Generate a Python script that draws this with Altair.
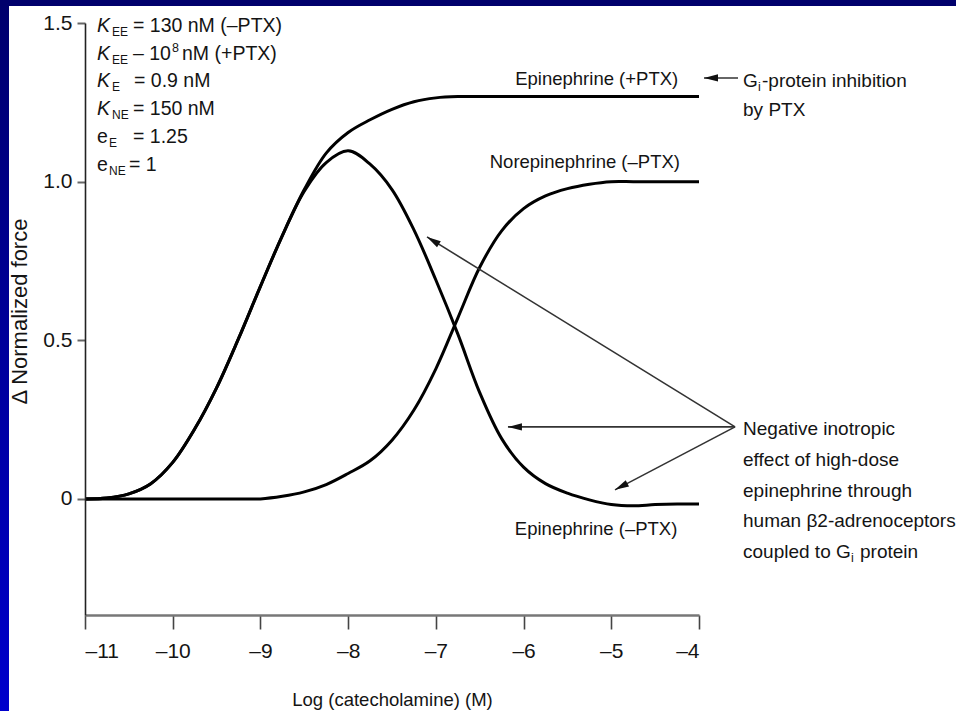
import math
import altair as alt
import pandas as pd

# ---------------- data ----------------
log_conc = [-11, -10.75, -10.5, -10.25, -10, -9.75, -9.5, -9.25, -9, -8.75,
            -8.5, -8.25, -8, -7.75, -7.5, -7.25, -7, -6.75, -6.5, -6.25,
            -6, -5.75, -5.5, -5.25, -5, -4.75, -4.5, -4.25, -4]
epi_plus_ptx = [0, 0.003, 0.016, 0.048, 0.115, 0.22, 0.35, 0.505, 0.67, 0.83,
                0.975, 1.09, 1.155, 1.195, 1.228, 1.252, 1.264, 1.268, 1.268, 1.268,
                1.268, 1.268, 1.268, 1.268, 1.268, 1.268, 1.268, 1.268, 1.268]
epi_minus_ptx = [0, 0.003, 0.016, 0.048, 0.115, 0.22, 0.35, 0.505, 0.67, 0.83,
                 0.97, 1.06, 1.097, 1.055, 0.975, 0.848, 0.69, 0.52, 0.335, 0.19,
                 0.10, 0.048, 0.018, -0.003, -0.018, -0.022, -0.018, -0.016, -0.016]
norepi_minus_ptx = [0, 0, 0, 0, 0, 0, 0, 0, 0, 0.008,
                    0.022, 0.045, 0.08, 0.12, 0.185, 0.28, 0.41, 0.57, 0.73, 0.845,
                    0.915, 0.955, 0.978, 0.992, 1.0, 1.0, 1.0, 1.0, 1.0]
series_names = ["Epinephrine (+PTX)", "Epinephrine (-PTX)", "Norepinephrine (-PTX)"]

x_ticks = [-11, -10, -9, -8, -7, -6, -5, -4]
y_ticks = [0, 0.5, 1.0, 1.5]
x_title = "Log (catecholamine) (M)"
y_title = "Δ Normalized force"

# annotation texts and anchors (data units)
curve_labels = ["Epinephrine (+PTX)", "Norepinephrine (–PTX)", "Epinephrine (–PTX)"]
curve_label_x = [-4.237, -4.217, -4.247]
curve_label_y = [1.305, 1.042, -0.1135]

param_main = ["K", "K", "K", "K", "e", "e"]
param_sub = ["EE", "EE", "E", "NE", "E", "NE"]
param_rest = ["= 130 nM (–PTX)", "– 10", "= 0.9 nM", "= 150 nM", "= 1.25", "= 1"]
param_sup = "8"
param_tail = "nM (+PTX)"
param_x = -10.863
param_y = [1.472, 1.384, 1.297, 1.210, 1.122, 1.034]

gi_lines = ["G", "i", "-protein inhibition", "by PTX"]
gi_x = -3.498
gi_y = [1.2985, 1.207]

note_lines = ["Negative inotropic", "effect of high-dose", "epinephrine through",
              "human β2-adrenoceptors", "coupled to G", "i", "protein"]
note_x = -3.498
note_y = [0.2017, 0.104, 0.0063, -0.0898, -0.186]

arrow_tail_x = [-3.589, -3.589, -3.589, -3.555]
arrow_tail_y = [0.2269, 0.2269, 0.2269, 1.3268]
arrow_head_x = [-7.101, -6.178, -4.958, -3.943]
arrow_head_y = [0.8257, 0.2269, 0.0284, 1.3268]

# ---------------- layout / style ----------------
W, H = 614, 592
X_DOM = [-11, -4]
Y_DOM = [-0.366, 1.5]
PAD = {"left": 85, "top": 23, "right": 956 - 85 - W, "bottom": 711 - 23 - H}
FONT = "Liberation Sans"
INK = "#141414"

X_SCALE = alt.Scale(domain=X_DOM, nice=False, zero=False)
Y_SCALE = alt.Scale(domain=Y_DOM, nice=False, zero=False)

X_AXIS = alt.Axis(
    values=x_ticks, grid=False, zindex=1,
    labelExpr="datum.value < 0 ? '–' + format(-datum.value, 'd') : format(datum.value, 'd')",
    labelFont=FONT, labelFontSize=21, labelColor=INK, labelPadding=11,
    tickSize=14, tickWidth=1.6, tickColor="#444444",
    domainColor="#777777", domainWidth=2.6,
    title=x_title, titleFont=FONT, titleFontSize=18.5, titleFontWeight="normal",
    titleColor=INK, titleX=307, titleY=90, titleBaseline="alphabetic", titleAlign="center")

Y_AXIS = alt.Axis(
    values=y_ticks, grid=False, zindex=1,
    labelExpr="datum.value == 0 ? '0' : format(datum.value, '.1f')",
    labelFont=FONT, labelFontSize=21, labelColor=INK, labelPadding=5,
    tickSize=8, tickWidth=2, tickColor="#666666",
    domainColor="#222222", domainWidth=1.6,
    title=y_title, titleFont=FONT, titleFontSize=22, titleFontWeight="normal",
    titleColor=INK, titleX=-59, titleY=288, titleAngle=270,
    titleBaseline="alphabetic", titleAlign="center")


def X(field):
    return alt.X(field, scale=X_SCALE, axis=X_AXIS)


def Y(field):
    return alt.Y(field, scale=Y_SCALE, axis=Y_AXIS)


one = pd.DataFrame({"a": [0]})

# blue frame strips (left: gradient, top: navy)
left_strip = alt.Chart(one).mark_rect(
    color=alt.LinearGradient(
        gradient="linear",
        stops=[alt.GradientStop(color="#00006c", offset=0),
               alt.GradientStop(color="#0000cc", offset=1)],
        x1=0, x2=0, y1=0, y2=1)
).encode(x=alt.value(-PAD["left"]), x2=alt.value(9 - PAD["left"]),
         y=alt.value(-PAD["top"]), y2=alt.value(H + PAD["bottom"]))

top_strip = alt.Chart(one).mark_rect(color="#00006c").encode(
    x=alt.value(-PAD["left"]), x2=alt.value(W + PAD["right"]),
    y=alt.value(-PAD["top"]), y2=alt.value(6 - PAD["top"]))

rows = []
for name, vals in zip(series_names, [epi_plus_ptx, epi_minus_ptx, norepi_minus_ptx]):
    for xv, yv in zip(log_conc, vals):
        rows.append({"x": xv, "y": yv, "series": name})
curves_df = pd.DataFrame(rows)

curves = alt.Chart(curves_df).mark_line(
    interpolate="catmull-rom", strokeWidth=3, color="#000000"
).encode(x=X("x:Q"), y=Y("y:Q"), detail="series:N")


def txt(x, y, s, size=19, dx=0, dy=0, align="left", style="normal"):
    d = pd.DataFrame({"x": [x], "y": [y], "t": [s]})
    return alt.Chart(d).mark_text(
        align=align, baseline="alphabetic", dx=dx, dy=dy,
        fontSize=size, fontStyle=style, font=FONT, color=INK
    ).encode(x=X("x:Q"), y=Y("y:Q"), text="t:N")


texts = []
# curve labels
for s, xv, yv in zip(curve_labels, curve_label_x, curve_label_y):
    texts.append(txt(xv, yv, s, size=18.5, align="right"))

# parameter block
sub_dx = [15, 15, 15, 15, 12, 12]
rest_dx = [36, 36, 37, 36, 36, 32]
for i in range(6):
    style = "italic" if param_main[i] == "K" else "normal"
    texts.append(txt(param_x, param_y[i], param_main[i], size=19.5, style=style))
    texts.append(txt(param_x, param_y[i], param_sub[i], size=12, dx=sub_dx[i], dy=4))
    texts.append(txt(param_x, param_y[i], param_rest[i], size=19.5, dx=rest_dx[i]))
texts.append(txt(param_x, param_y[1], param_sup, size=12.5, dx=75, dy=-8))
texts.append(txt(param_x, param_y[1], param_tail, size=19.5, dx=85))

# Gi-protein inhibition note
texts.append(txt(gi_x, gi_y[0], gi_lines[0], size=19))
texts.append(txt(gi_x, gi_y[0], gi_lines[1], size=12.5, dx=15, dy=4))
texts.append(txt(gi_x, gi_y[0], gi_lines[2], size=19, dx=19))
texts.append(txt(gi_x, gi_y[1], gi_lines[3], size=19))

# negative inotropic note
for i in range(5):
    texts.append(txt(note_x, note_y[i], note_lines[i], size=19))
texts.append(txt(note_x, note_y[4], note_lines[5], size=12.5, dx=108, dy=4))
texts.append(txt(note_x, note_y[4], note_lines[6], size=19, dx=117))

# arrows
sx = W / (X_DOM[1] - X_DOM[0])
sy = H / (Y_DOM[1] - Y_DOM[0])
arr_rows = []
for tx, ty, hx, hy in zip(arrow_tail_x, arrow_tail_y, arrow_head_x, arrow_head_y):
    dxp = (hx - tx) * sx
    dyp = -(hy - ty) * sy
    ang = math.degrees(math.atan2(dxp, -dyp)) % 360
    arr_rows.append({"x": tx, "y": ty, "xe": hx, "ye": hy, "ang": ang})
arr_df = pd.DataFrame(arr_rows)

arrow_lines = alt.Chart(arr_df).mark_rule(color="#333333", strokeWidth=1.6).encode(
    x=X("x:Q"), y=Y("y:Q"), x2="xe:Q", y2="ye:Q")

arrow_heads = alt.Chart(arr_df).mark_point(
    shape="M0,0L0.36,1.4L-0.36,1.4Z", filled=True, size=400, color="#111111", opacity=1
).encode(x=X("xe:Q"), y=Y("ye:Q"), angle=alt.Angle("ang:Q", scale=None))

chart = alt.layer(curves, left_strip, top_strip, arrow_lines, arrow_heads, *texts).properties(
    width=W, height=H,
    autosize=alt.AutoSizeParams(type="none"),
    padding=PAD,
    background="#ffffff",
).configure_view(stroke=None)

chart.save("out.html", embed_options={"renderer": "svg", "actions": False})
